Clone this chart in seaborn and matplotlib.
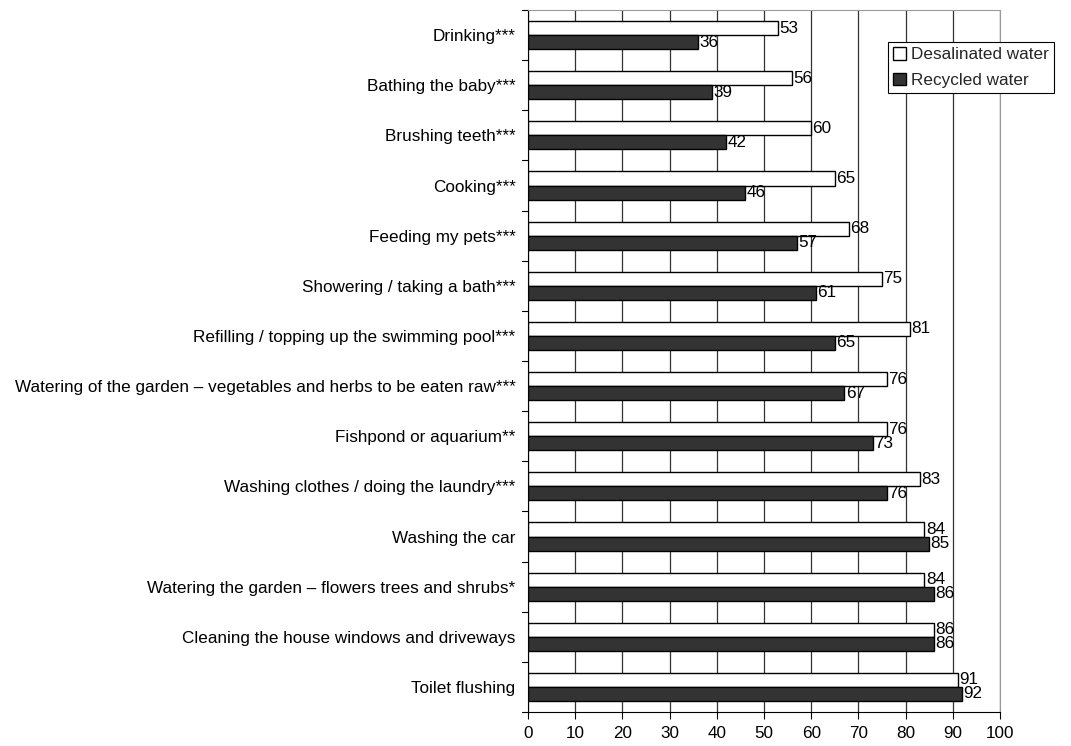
import matplotlib
matplotlib.use("Agg")
import matplotlib.pyplot as plt
import seaborn as sns
import pandas as pd

categories = [
    "Drinking***",
    "Bathing the baby***",
    "Brushing teeth***",
    "Cooking***",
    "Feeding my pets***",
    "Showering / taking a bath***",
    "Refilling / topping up the swimming pool***",
    "Watering of the garden \u2013 vegetables and herbs to be eaten raw***",
    "Fishpond or aquarium**",
    "Washing clothes / doing the laundry***",
    "Washing the car",
    "Watering the garden \u2013 flowers trees and shrubs*",
    "Cleaning the house windows and driveways",
    "Toilet flushing",
]
desalinated = [53, 56, 60, 65, 68, 75, 81, 76, 76, 83, 84, 84, 86, 91]
recycled = [36, 39, 42, 46, 57, 61, 65, 67, 73, 76, 85, 86, 86, 92]
series = ["Desalinated water", "Recycled water"]
xticks = list(range(0, 101, 10))

df = pd.DataFrame({
    "category": categories * 2,
    "value": desalinated + recycled,
    "series": [series[0]] * len(categories) + [series[1]] * len(categories),
})

sns.set_style("white")
plt.rcParams["font.family"] = ["Liberation Sans", "DejaVu Sans"]
FS = 12.3

fig = plt.figure(figsize=(10.71, 7.46), dpi=100)
ax = fig.add_axes([528 / 1071, 1 - 712 / 746, 472 / 1071, 702 / 746])

sns.barplot(data=df, y="category", x="value", hue="series", orient="h",
            palette=["white", "#333333"], edgecolor="black", linewidth=1.0,
            width=0.56, ax=ax, legend=True)

ax.set_xlim(0, 100)
ax.set_ylim(len(categories) - 0.5, -0.5)
ax.set_xticks(xticks)
ax.set_xticklabels([str(t) for t in xticks], fontsize=FS)
ax.set_xlabel("")
ax.set_ylabel("")
ax.tick_params(axis="y", labelsize=FS, length=0, pad=9, colors="black")
ax.tick_params(axis="x", length=5, width=0.8, direction="out", bottom=True,
               pad=5, colors="black")
ax.grid(axis="x", color="#333333", linewidth=0.9)
ax.set_axisbelow(True)
ax.spines["top"].set_color("#999999")
ax.spines["right"].set_color("#999999")
ax.spines["left"].set_color("black")
ax.spines["bottom"].set_color("black")

for cont in ax.containers:
    ax.bar_label(cont, fmt="%d", padding=1, fontsize=FS, color="black")

# category separator ticks on left axis
for i in range(len(categories) + 1):
    ax.plot([-0.012, 0], [i - 0.5, i - 0.5], transform=ax.get_yaxis_transform(),
            color="black", linewidth=0.8, clip_on=False)

leg = ax.legend(loc="upper right", bbox_to_anchor=(1054 / 1071, 1 - 42 / 746),
                bbox_transform=fig.transFigure, fontsize=FS,
                frameon=True, fancybox=False, edgecolor="black",
                handlelength=0.75, handleheight=0.75, handletextpad=0.3,
                borderpad=0.3, labelspacing=0.6, borderaxespad=0.0)
leg.get_frame().set_linewidth(0.8)
leg.get_frame().set_alpha(1)

fig.savefig("out.png", dpi=100)
